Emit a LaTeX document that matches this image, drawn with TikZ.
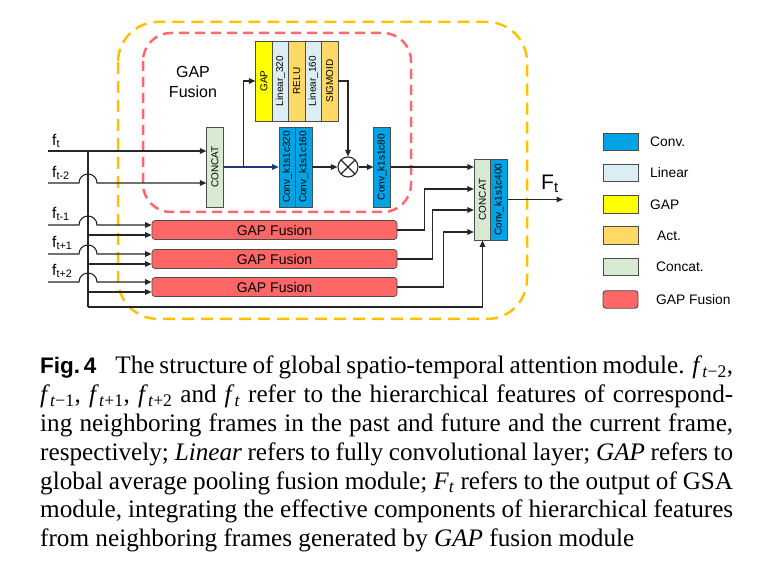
\documentclass[tikz,border=0pt]{standalone}
\usepackage{graphicx}
\usepackage{fontspec}
\setmainfont{Liberation Serif}
\setsansfont{Liberation Sans}
\usetikzlibrary{arrows.meta}

\definecolor{convblue}{RGB}{0,163,228}
\definecolor{linblue}{RGB}{218,238,243}
\definecolor{gapyellow}{RGB}{255,255,0}
\definecolor{actorange}{RGB}{255,217,102}
\definecolor{catgreen}{RGB}{217,234,211}
\definecolor{fusred}{RGB}{255,102,102}
\definecolor{outerorange}{RGB}{255,192,0}
\definecolor{innerred}{RGB}{255,102,112}
\definecolor{navyline}{RGB}{31,56,120}

\newcommand{\fsub}[1]{\textit{f}\textsubscript{\textit{t}#1}}

\begin{document}
\begin{tikzpicture}[x=1pt,y=-1pt,>={Triangle[length=6.5pt,width=5.5pt]},
    line/.style={draw=black!85,line width=1.1pt},
    blk/.style={draw=black!70,line width=0.7pt,inner sep=0pt,font=\sffamily\fontsize{10}{11}\selectfont},
    tallbox/.style={blk,minimum width=16.5pt,minimum height=80pt},
    convbox/.style={tallbox,fill=convblue},
    linbox/.style={tallbox,fill=linblue},
    gapbox/.style={tallbox,fill=gapyellow},
    actbox/.style={tallbox,fill=actorange},
    catbox/.style={tallbox,fill=catgreen},
    fusbox/.style={blk,fill=fusred,rounded corners=3pt,minimum width=245pt,minimum height=19pt,font=\sffamily\fontsize{14}{16}\selectfont},
    legbox/.style={draw=black!70,line width=0.9pt,minimum width=35pt,minimum height=17.5pt,inner sep=0pt},
    legtext/.style={anchor=west,inner sep=0pt,font=\sffamily\fontsize{13.8}{16}\selectfont},
    flab/.style={anchor=south west,inner sep=0pt,font=\sffamily\fontsize{15.5}{17}\selectfont},
    mult/.style={circle,draw=black!85,line width=1.1pt,minimum size=20pt,inner sep=0pt,
        path picture={\draw[line width=1.1pt,black!85] (path picture bounding box.north west) -- (path picture bounding box.south east)
            (path picture bounding box.south west) -- (path picture bounding box.north east);}},
    outerdash/.style={draw=outerorange,line width=2.5pt,dash pattern=on 12pt off 7pt},
    innerdash/.style={draw=innerred,line width=2.5pt,dash pattern=on 10pt off 6pt}]
\useasboundingbox (0,0) rectangle (774,577);

% dashed regions
\draw [outerdash,rounded corners=40pt] (118,22) rectangle (527,319);
\draw [innerdash,rounded corners=28pt] (143,33) rectangle (411,212);
\node (lgapfus) at (193,82) [align=center,font=\sffamily\fontsize{16}{20}\selectfont] {GAP\\Fusion};

% blocks
\node [catbox] (cat1) at (215,167) {\rotatebox{90}{CONCAT}};
\node [gapbox] (gap)  at (264,81)   {\rotatebox{90}{GAP}};
\node [linbox] (lin1) at (280.4,81) {\rotatebox{90}{Linear\_320}};
\node [actbox] (relu) at (296.8,81) {\rotatebox{90}{RELU}};
\node [linbox] (lin2) at (313.2,81) {\rotatebox{90}{Linear\_160}};
\node [actbox] (sig)  at (329.6,81) {\rotatebox{90}{SIGMOID}};
\node [convbox] (c320) at (287.3,167) {\rotatebox{90}{Conv\_k1s1c320}};
\node [convbox] (c160) at (303.7,167) {\rotatebox{90}{Conv\_k1s1c160}};
\node [mult] (mul) at (348,167) {};
\node [convbox] (c80) at (382,167) {\rotatebox{90}{Conv\_k1s1c80}};
\node [catbox,minimum height=81pt] (cat2) at (482.5,199.5) {\rotatebox{90}{CONCAT}};
\node [convbox,minimum height=81pt] (c400) at (499,199.5) {\rotatebox{90}{Conv\_k1s1c400}};
\node [fusbox] (fus1) at (274.5,230) {GAP Fusion};
\node [fusbox] (fus2) at (274.5,259) {GAP Fusion};
\node [fusbox] (fus3) at (274.5,287) {GAP Fusion};

% inputs
\coordinate (ft)  at (48,151);
\coordinate (ft2) at (48,183);
\coordinate (ft1) at (48,225);
\coordinate (ftp1) at (48,254);
\coordinate (ftp2) at (48,282);
\coordinate (bus) at (88,151);
\coordinate (busend) at (88,307);
\coordinate (fin1a) at ([yshift=5pt]fus1.west);
\coordinate (fin1b) at ([yshift=-5pt]fus1.west);
\coordinate (fin2a) at ([yshift=5pt]fus2.west);
\coordinate (fin2b) at ([yshift=-5pt]fus2.west);
\coordinate (fin3a) at ([yshift=5pt]fus3.west);
\coordinate (fin3b) at ([yshift=-5pt]fus3.west);
\coordinate (out) at (563,199.5);
\node [flab] (lft)   at (52,148) {f\textsubscript{t}};
\node [flab] (lft2)  at (52,180) {f\textsubscript{t-2}};
\node [flab] (lft1)  at (52,221) {f\textsubscript{t-1}};
\node [flab] (lftp1) at (52,250) {f\textsubscript{t+1}};
\node [flab] (lftp2) at (52,278) {f\textsubscript{t+2}};
\node (lout) at (541,193) [anchor=south west,inner sep=0pt,font=\sffamily\fontsize{21}{24}\selectfont] {F\textsubscript{t}};

\draw [line,->] (ft) -- (ft -| cat1.west);
\draw [line,->] (ft2) -- ++(31,0) arc [start angle=180,end angle=360,radius=9] -- (ft2 -| cat1.west);
\draw [line] (bus) -- (busend);
\draw [line,->] (busend) -- (busend -| cat2.south) -- (cat2.south);
\draw [line,->] (ft1) -- ++(31,0) arc [start angle=180,end angle=360,radius=9] -- (fin1a);
\draw [line,->] (ftp1) -- ++(31,0) arc [start angle=180,end angle=360,radius=9] -- (fin2a);
\draw [line,->] (ftp2) -- ++(31,0) arc [start angle=180,end angle=360,radius=9] -- (fin3a);
\draw [line,->] (bus |- fin1b) -- (fin1b);
\draw [line,->] (bus |- fin2b) -- (fin2b);
\draw [line,->] (bus |- fin3b) -- (fin3b);

% attention branch
\draw [line,draw=navyline,->] (cat1.east) -- (c320.west);
\draw [line,->] (cat1.east) ++(20,0) |- (gap.west);
\draw [line,->] (sig.east) -| (mul.north);
\draw [line,->] (c160.east) -- (mul.west);
\draw [line,->] (mul.east) -- (c80.west);
\draw [line,->] (c80.east) -- (c80.east -| cat2.west);
\draw [line,->] (fus1.east) -- ++(27,0) |- ([yshift=10.5pt]cat2.west);
\draw [line,->] (fus2.east) -- ++(35,0) |- ([yshift=-10.5pt]cat2.west);
\draw [line,->] (fus3.east) -- ++(46,0) |- ([yshift=-32.5pt]cat2.west);
\draw [line,->] (c400.east) -- (out);

% legend
\node [legbox,fill=convblue] (kconv) at (620.5,142) {};
\node [legbox,fill=linblue] (klin) at (620.5,173) {};
\node [legbox,fill=gapyellow] (kgap) at (620.5,204.5) {};
\node [legbox,fill=actorange] (kact) at (620.5,235.5) {};
\node [legbox,fill=catgreen] (kcat) at (620.5,267) {};
\node [legbox,fill=fusred,rounded corners=3pt] (kfus) at (620.5,299.5) {};
\node [legtext] (tconv) at (650,142) {Conv.};
\node [legtext] (tlin) at (650,173) {Linear};
\node [legtext] (tgap) at (650,204.5) {GAP};
\node [legtext] (tact) at (657,235.5) {Act.};
\node [legtext] (tcat) at (656,267) {Concat.};
\node [legtext] (tfus) at (656,299.5) {GAP Fusion};

% caption
\node (cap) at (40,356) [anchor=north west,inner sep=0pt,text width=693pt,align=justify,font=\fontsize{25.2}{28.8}\selectfont]
{{\sffamily\bfseries\fontsize{22.5}{28.8}\selectfont Fig.\,4}\hspace{0.75em}The structure of global spatio-temporal attention module. \fsub{−2},\linebreak
\fsub{−1}, \fsub{+1}, \fsub{+2} and \fsub{} refer to the hierarchical features of correspond-\linebreak
ing neighboring frames in the past and future and the current frame,\linebreak
respectively; \textit{Linear} refers to fully convolutional layer; \textit{GAP} refers to\linebreak
global average pooling fusion module; \textit{F}\textsubscript{\textit{t}} refers to the output of GSA\linebreak
module, integrating the effective components of hierarchical features\linebreak
from neighboring frames generated by \textit{GAP} fusion module};
\end{tikzpicture}
\end{document}
